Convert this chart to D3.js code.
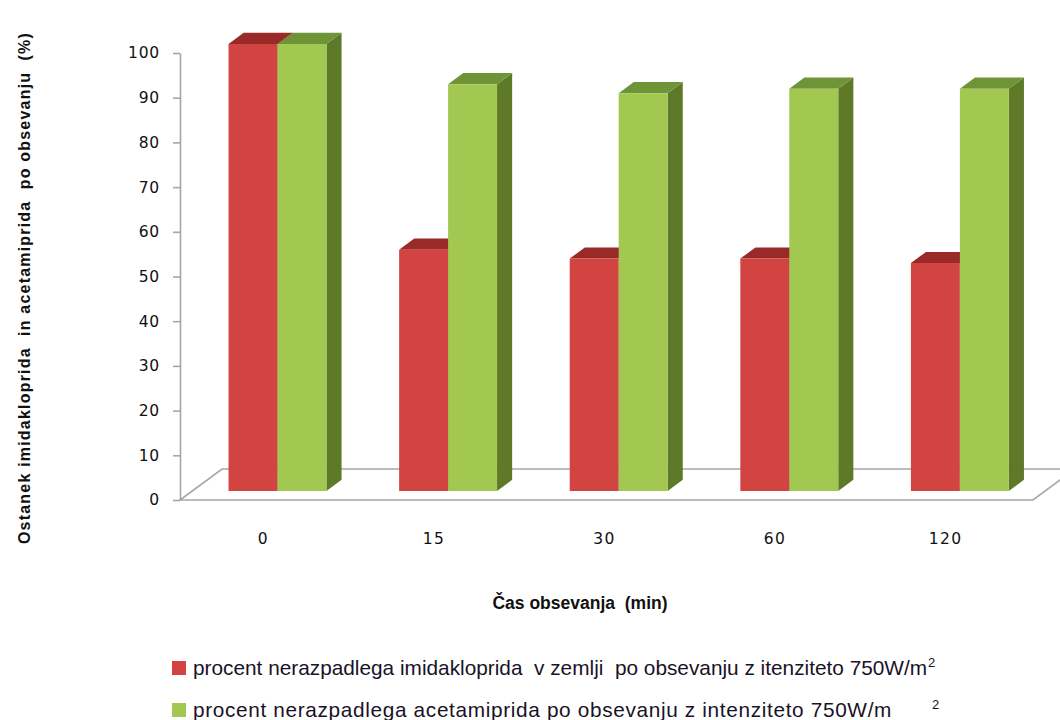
<!DOCTYPE html>
<html>
<head>
<meta charset="utf-8">
<script src="https://cdn.jsdelivr.net/npm/d3@7"></script>
<style>
  html, body { margin: 0; padding: 0; background: #fff; }
  svg { display: block; }
  text { white-space: pre; }
</style>
</head>
<body>
<svg id="chart" width="1060" height="720"></svg>
<script>
// Time after irradiation (min)
const categories = ["0", "15", "30", "60", "120"];
// Remaining imidacloprid in soil (%)
const imidakloprid = [100, 54, 52, 52, 51];
// Remaining acetamiprid (%)
const acetamiprid = [100, 91, 89, 90, 90];
const yTicks = [0, 10, 20, 30, 40, 50, 60, 70, 80, 90, 100];

const seriesNames = [
  "procent nerazpadlega imidakloprida  v zemlji  po obsevanju z itenziteto 750W/m",
  "procent nerazpadlega acetamiprida po obsevanju z intenziteto 750W/m"
];

const colors = [
  { front: "#d14442", top: "#9a2a28", side: "#8e2725" },
  { front: "#a2c852", top: "#6f9337", side: "#5e7a28" }
];

const svg = d3.select("#chart");
const fontFamily = "'Liberation Sans', Arial, sans-serif";
const numFont = "'DejaVu Sans', Verdana, sans-serif";

// front plane scales
const x = d3.scaleBand().domain(categories).range([180, 1033]);
const y = d3.scaleLinear().domain([0, 100]).range([500, 53]);

// oblique depth projection
const DX = 42, DY = 31;
const P = (px, v, d) => [px + d * DX, y(v) - d * DY];
const dFront = 0.29, dBack = 0.65;

// floor
const floor = [P(180, 0, 0), P(1033, 0, 0), P(1033, 0, 1), P(180, 0, 1)];
svg.append("polygon")
  .attr("points", floor.map(p => p.join(",")).join(" "))
  .attr("fill", "none")
  .attr("stroke", "#a6a6a6")
  .attr("stroke-width", 1.6);

// value axis on the front plane
const axisG = svg.append("g").attr("transform", "translate(180,0)");
axisG.call(d3.axisLeft(y).tickValues(yTicks).tickSize(7).tickPadding(13).tickSizeOuter(0));
axisG.select(".domain").attr("stroke", "#a6a6a6").attr("stroke-width", 1.6);
axisG.selectAll(".tick line").attr("stroke", "#a6a6a6").attr("stroke-width", 1.6);
axisG.selectAll(".tick text")
  .attr("font-family", numFont)
  .attr("font-size", 15.5)
  .attr("letter-spacing", 0.8)
  .attr("fill", "#111");

// bars
const barW = x.bandwidth() * 0.287;
const barsG = svg.append("g");
categories.forEach((c, i) => {
  const cx = x(c) + x.bandwidth() / 2;
  [imidakloprid[i], acetamiprid[i]].forEach((v, s) => {
    const x0 = s === 0 ? cx - barW : cx;
    const x1 = x0 + barW;
    const col = colors[s];
    const poly = pts => barsG.append("polygon").attr("points", pts.map(p => p.join(",")).join(" "));
    // right side
    poly([P(x1, 0, dFront), P(x1, v, dFront), P(x1, v, dBack), P(x1, 0, dBack)]).attr("fill", col.side);
    // top
    poly([P(x0, v, dFront), P(x1, v, dFront), P(x1, v, dBack), P(x0, v, dBack)]).attr("fill", col.top);
    // front
    poly([P(x0, 0, dFront), P(x1, 0, dFront), P(x1, v, dFront), P(x0, v, dFront)]).attr("fill", col.front);
  });
});

// category labels
svg.append("g").selectAll("text").data(categories).join("text")
  .attr("x", d => x(d) + x.bandwidth() / 2 - 2)
  .attr("y", 544)
  .attr("text-anchor", "middle")
  .attr("font-family", numFont)
  .attr("font-size", 15.5)
  .attr("letter-spacing", 1.4)
  .attr("fill", "#111")
  .text(d => d);

// axis titles
svg.append("text")
  .attr("x", 580).attr("y", 609)
  .attr("text-anchor", "middle")
  .attr("font-family", fontFamily)
  .attr("font-size", 17.5)
  .attr("font-weight", "bold")
  .attr("fill", "#111")
  .text("Čas obsevanja  (min)");

svg.append("text")
  .attr("transform", "translate(30,288) rotate(-90)")
  .attr("text-anchor", "middle")
  .attr("font-family", fontFamily)
  .attr("font-size", 16)
  .attr("font-weight", "bold")
  .attr("letter-spacing", 1.2)
  .attr("fill", "#111")
  .text("Ostanek imidakloprida  in acetamiprida  po obsevanju  (%)");

// legend
const legend = svg.append("g");
const legendRows = [668, 710];
const legendSpacing = [0, 0.65];
const supGap = [1, 40];
seriesNames.forEach((name, s) => {
  legend.append("rect")
    .attr("x", 172).attr("y", legendRows[s] - 7)
    .attr("width", 14).attr("height", 14)
    .attr("fill", colors[s].front);
  const t = legend.append("text")
    .attr("x", 193).attr("y", legendRows[s] + 7)
    .attr("font-family", fontFamily)
    .attr("font-size", 20.8)
    .attr("letter-spacing", legendSpacing[s])
    .attr("fill", "#1a1226");
  t.append("tspan").text(name);
  t.append("tspan").attr("dx", supGap[s]).attr("dy", -8).attr("font-size", 13).text("2");
});
</script>
</body>
</html>
